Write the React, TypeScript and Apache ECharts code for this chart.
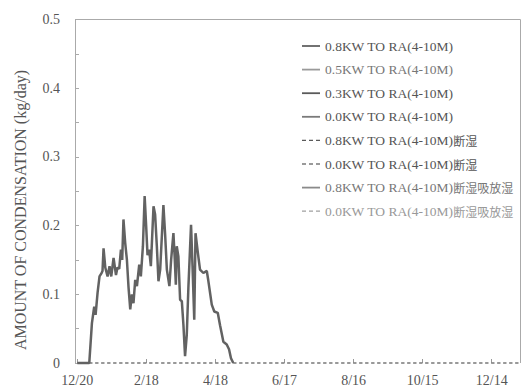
import React, { useEffect, useRef } from "react";
import * as echarts from "echarts";

const tickDays = [0, 60, 120, 180, 240, 300, 360];
const tickLabels = ["12/20", "2/18", "4/18", "6/17", "8/16", "10/15", "12/14"];

const curveDays = [
  0, 10.4, 12.7, 14.1, 14.7, 15.9, 17.6, 19.3, 20.8, 21.9, 22.8, 24.3, 26.3, 28, 29.5, 31.5, 33.6, 34.9,
  36.4, 37.9, 39, 40.1, 41.6, 43.1, 44.5, 46, 47.4, 48.8, 50.3, 51.8, 53.8, 55.2, 57, 58.5, 59.8, 61,
  62.4, 63.9, 66.2, 67.6, 69.1, 70.5, 72, 74.8, 76.3, 77.8, 80, 81.5, 83.5, 84.7, 85.6, 86.4, 87.8,
  89.3, 90.8, 92.2, 93.6, 95.1, 96.5, 98.8, 100.1, 101.6, 102.7, 104.6, 106.6, 109.5, 112.5, 113.8,
  116.8, 119, 122, 124, 126.9, 129.8, 131.8, 133.5, 135.5,
];
const curveValues = [
  0, 0, 0.058, 0.075, 0.082, 0.07, 0.102, 0.126, 0.13, 0.134, 0.167, 0.139, 0.126, 0.141, 0.126, 0.153,
  0.128, 0.139, 0.137, 0.165, 0.15, 0.209, 0.175, 0.15, 0.11, 0.078, 0.1, 0.087, 0.121, 0.112, 0.143,
  0.126, 0.17, 0.243, 0.2, 0.157, 0.165, 0.141, 0.228, 0.216, 0.17, 0.119, 0.136, 0.23, 0.187, 0.136,
  0.112, 0.15, 0.189, 0.15, 0.114, 0.17, 0.155, 0.092, 0.09, 0.055, 0.01, 0.041, 0.11, 0.201, 0.14,
  0.063, 0.189, 0.162, 0.136, 0.131, 0.134, 0.12, 0.085, 0.075, 0.073, 0.055, 0.031, 0.027, 0.02,
  0.007, 0,
];

const zeroDays = [0, 385];
const zeroValues = [0, 0];

const seriesNames = [
  "0.8KW TO RA(4-10M)",
  "0.5KW TO RA(4-10M)",
  "0.3KW TO RA(4-10M)",
  "0.0KW TO RA(4-10M)",
  "0.8KW TO RA(4-10M)断湿",
  "0.0KW TO RA(4-10M)断湿",
  "0.8KW TO RA(4-10M)断湿吸放湿",
  "0.0KW TO RA(4-10M)断湿吸放湿",
];

const X_MIN = -2;
const X_MAX = 385;
const Y_MIN = 0;
const Y_MAX = 0.5;

const FONT = "'Liberation Serif', 'Noto Sans CJK JP', serif";
const SOLID_ICON = "path://M0,0h20v2h-20z";
const DASH_ICON = "path://M0,0h4v1.3h-4zM7,0h4v1.3h-4zM14,0h4v1.3h-4z";

export default function App() {
  const ref = useRef<HTMLDivElement>(null);
  useEffect(() => {
    document.body.style.margin = "0";
    if (!ref.current) return;
    const chart = echarts.init(ref.current, null, { renderer: "svg" });
    const curve = curveDays.map((d, i) => [d, curveValues[i]]);
    const zero = zeroDays.map((d, i) => [d, zeroValues[i]]);
    const styles = [
      { color: "#626262", dashed: false, width: 2.5, data: curve },
      { color: "#9a9a9a", dashed: false, width: 2, data: [] },
      { color: "#5a5a5a", dashed: false, width: 2, data: [] },
      { color: "#7a7a7a", dashed: false, width: 2, data: [] },
      { color: "#5a5a5a", dashed: true, width: 1.2, data: zero },
      { color: "#7a7a7a", dashed: true, width: 1.2, data: zero },
      { color: "#8a8a8a", dashed: false, width: 2, data: [] },
      { color: "#a0a0a0", dashed: true, width: 1.2, data: zero },
    ];
    const series: any[] = seriesNames.map((name, i) => ({
      name,
      type: "line",
      data: styles[i].data,
      symbol: "none",
      showSymbol: false,
      clip: false,
      z: i === 0 ? 10 : 2 + i,
      lineStyle: {
        color: styles[i].color,
        width: styles[i].width,
        type: styles[i].dashed ? [3, 3] : "solid",
      },
      itemStyle: { color: styles[i].color },
    }));
    series[0].markLine = {
      silent: true,
      symbol: "none",
      label: { show: false },
      lineStyle: { color: "#aaa", width: 1, type: "solid" },
      data: [{ yAxis: Y_MAX }, { xAxis: X_MAX }],
    };
    chart.setOption({
      animation: false,
      backgroundColor: "#fff",
      textStyle: { fontFamily: FONT },
      grid: { left: 75, right: 1.5, top: 19.5, bottom: 26, containLabel: false },
      graphic: [
        {
          type: "text",
          x: 20,
          y: 210,
          rotation: Math.PI / 2,
          style: {
            text: "AMOUNT OF CONDENSATION (kg/day)",
            font: "16px 'Liberation Serif', serif",
            fill: "#555",
            textAlign: "center",
            textVerticalAlign: "middle",
          },
        },
      ],
      legend: {
        orient: "vertical",
        left: 297,
        top: 34,
        itemWidth: 18,
        itemHeight: 14,
        itemGap: 9.6,
        data: seriesNames.map((n, i) => ({
          name: n,
          icon: styles[i].dashed ? DASH_ICON : SOLID_ICON,
          textStyle: { color: i === 7 ? "#999" : i === 1 || i === 6 ? "#777" : "#555" },
        })),
        formatter: (name: string) => {
          const m = name.match(/^([^\u3000-\u9fff]*)(.*)$/);
          const latin = m ? m[1] : name;
          const cjk = m ? m[2] : "";
          return cjk ? `{l|${latin}}{c|${cjk}}` : `{l|${latin}}`;
        },
        textStyle: {
          fontFamily: FONT,
          fontSize: 13.5,
          color: "#555",
          rich: {
            l: { fontFamily: "'Liberation Serif', serif", fontSize: 13.5 },
            c: { fontFamily: "'Noto Sans CJK JP', sans-serif", fontSize: 12 },
          },
        },
      },
      xAxis: {
        type: "value",
        min: X_MIN,
        max: X_MAX,
        axisLine: { show: false },
        axisTick: { show: true, inside: true, length: 4, customValues: tickDays, lineStyle: { color: "#999" } },
        axisLabel: {
          customValues: tickDays,
          margin: 10,
          fontSize: 14,
          color: "#555",
          fontFamily: FONT,
          formatter: (v: number) => {
            const idx = tickDays.indexOf(Math.round(v));
            return idx >= 0 ? tickLabels[idx] : "";
          },
        },
        splitLine: { show: false },
      },
      yAxis: {
        type: "value",
        min: Y_MIN,
        max: Y_MAX,
        interval: 0.05,
        axisLine: { show: true, onZero: false, lineStyle: { color: "#aaa", width: 1 } },
        axisTick: { show: true, inside: true, length: 4, lineStyle: { color: "#aaa" } },
        axisLabel: {
          interval: 1,
          margin: 15,
          fontSize: 14,
          color: "#555",
          fontFamily: FONT,
          formatter: (v: number) => {
            const r = Math.round(v * 100) / 100;
            return Math.round(r * 10) === r * 10 ? String(Math.round(r * 10) / 10) : "";
          },
        },
        splitLine: { show: false },
      },
      series,
    });
    return () => chart.dispose();
  }, []);
  return <div ref={ref} style={{ width: 522, height: 389 }} />;
}
